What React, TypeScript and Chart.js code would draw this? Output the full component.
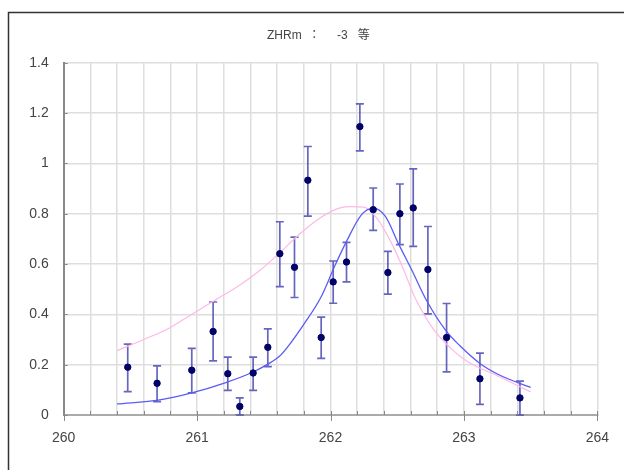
import React, { useEffect, useRef } from "react";
import { Chart, registerables } from "chart.js";

Chart.register(...registerables);

// Observed points with error bars
const obsX = [260.48, 260.70, 260.96, 261.12, 261.23, 261.32, 261.42, 261.53, 261.62, 261.73, 261.83, 261.93, 262.02, 262.12, 262.22, 262.32, 262.43, 262.52, 262.62, 262.73, 262.87, 263.12, 263.42];
const obsY = [0.19, 0.126, 0.178, 0.332, 0.164, 0.034, 0.167, 0.269, 0.641, 0.587, 0.933, 0.308, 0.529, 0.608, 1.146, 0.816, 0.566, 0.80, 0.823, 0.578, 0.308, 0.144, 0.068];
const errLow = [0.093, 0.053, 0.088, 0.215, 0.098, 0.0, 0.098, 0.192, 0.51, 0.467, 0.79, 0.225, 0.444, 0.529, 1.05, 0.734, 0.48, 0.677, 0.67, 0.402, 0.171, 0.042, 0.0];
const errHigh = [0.282, 0.195, 0.265, 0.449, 0.23, 0.068, 0.23, 0.342, 0.768, 0.707, 1.067, 0.389, 0.612, 0.686, 1.236, 0.902, 0.65, 0.918, 0.978, 0.749, 0.443, 0.246, 0.135];

// Blue fitted curve
const blueX = [260.40, 260.72, 260.96, 261.21, 261.42, 261.53, 261.63, 261.81, 261.93, 262.03, 262.12, 262.23, 262.32, 262.41, 262.51, 262.61, 262.72, 262.865, 262.97, 263.12, 263.27, 263.50];
const blueY = [0.044, 0.060, 0.088, 0.128, 0.171, 0.202, 0.240, 0.368, 0.47, 0.59, 0.69, 0.794, 0.822, 0.79, 0.68, 0.575, 0.455, 0.335, 0.275, 0.205, 0.158, 0.11];

// Pink curve
const pinkX = [260.40, 260.60, 260.79, 260.96, 261.13, 261.33, 261.46, 261.61, 261.76, 261.90, 262.03, 262.14, 262.25, 262.35, 262.46, 262.55, 262.63, 262.77, 262.90, 263.02, 263.27, 263.50];
const pinkY = [0.256, 0.30, 0.345, 0.40, 0.455, 0.52, 0.57, 0.64, 0.715, 0.775, 0.815, 0.828, 0.826, 0.78, 0.68, 0.575, 0.47, 0.342, 0.266, 0.215, 0.151, 0.092];

const titleText = "ZHRm  ：     -3   等";
const xMin = 260;
const xMax = 264;
const yMin = 0;
const yMax = 1.4;

const errorBarPlugin = {
  id: "errbars",
  beforeDatasetsDraw(chart: any) {
    const { ctx, scales } = chart;
    const x = scales.x;
    const y = scales.y;
    ctx.save();
    ctx.strokeStyle = "rgba(64,64,176,0.8)";
    ctx.lineWidth = 1.7;
    obsX.forEach((xv, i) => {
      const px = x.getPixelForValue(xv);
      const top = y.getPixelForValue(errHigh[i]);
      const bot = y.getPixelForValue(errLow[i]);
      ctx.beginPath();
      ctx.moveTo(px, top);
      ctx.lineTo(px, bot);
      ctx.moveTo(px - 4, top);
      ctx.lineTo(px + 4, top);
      ctx.moveTo(px - 4, bot);
      ctx.lineTo(px + 4, bot);
      ctx.stroke();
    });
    ctx.restore();
  },
};

const framePlugin = {
  id: "frame",
  afterDraw(chart: any) {
    const { ctx, scales, chartArea } = chart;
    ctx.save();
    ctx.strokeStyle = "#333";
    ctx.lineWidth = 1.5;
    ctx.beginPath();
    ctx.moveTo(8.5, chart.height);
    ctx.lineTo(8.5, 12.5);
    ctx.lineTo(chart.width, 12.5);
    ctx.stroke();
    // title
    ctx.fillStyle = "#444";
    ctx.font = "12px 'Liberation Sans', 'Noto Sans CJK JP', sans-serif";
    ctx.textAlign = "left";
    ctx.textBaseline = "middle";
    ctx.fillText(titleText, 267, 36);
    // tick marks
    ctx.strokeStyle = "#888";
    ctx.lineWidth = 1;
    const x = scales.x;
    const y = scales.y;
    for (let k = 0; k <= 20; k++) {
      const v = xMin + k * 0.2;
      const px = Math.round(x.getPixelForValue(v)) + 0.5;
      ctx.beginPath();
      if (k % 5 === 0) {
        ctx.moveTo(px, chartArea.bottom - 4);
        ctx.lineTo(px, chartArea.bottom + 6);
      } else {
        ctx.moveTo(px, chartArea.bottom - 4);
        ctx.lineTo(px, chartArea.bottom);
      }
      ctx.stroke();
    }
    for (let k = 0; k <= 7; k++) {
      const v = yMin + k * 0.2;
      const py = Math.round(y.getPixelForValue(v)) + 0.5;
      ctx.beginPath();
      ctx.moveTo(chartArea.left, py);
      ctx.lineTo(chartArea.left + 4, py);
      ctx.stroke();
    }
    ctx.restore();
  },
};

export default function App() {
  const ref = useRef<HTMLCanvasElement>(null);
  useEffect(() => {
    if (!ref.current) return;
    const chart = new Chart(ref.current, {
      type: "scatter",
      data: {
        datasets: [
          {
            label: "obs",
            data: obsX.map((x, i) => ({ x, y: obsY[i] })),
            pointRadius: 3.2,
            pointBackgroundColor: "#000066",
            pointBorderColor: "#000066",
            showLine: false,
            order: 0,
          },
          {
            label: "fit",
            data: blueX.map((x, i) => ({ x, y: blueY[i] })),
            showLine: true,
            pointRadius: 0,
            borderColor: "#5b5bf5",
            borderWidth: 1.3,
            cubicInterpolationMode: "monotone",
            order: 1,
          },
          {
            label: "model",
            data: pinkX.map((x, i) => ({ x, y: pinkY[i] })),
            showLine: true,
            pointRadius: 0,
            borderColor: "#ffb8e6",
            borderWidth: 1.2,
            cubicInterpolationMode: "monotone",
            order: 2,
          },
        ],
      },
      options: {
        animation: false,
        responsive: false,
        devicePixelRatio: 1,
        layout: { padding: { left: 8, right: 22, top: 62.7, bottom: 8.2 } },
        plugins: {
          legend: { display: false },
          tooltip: { enabled: false },
          title: { display: false },
        },
        scales: {
          x: {
            type: "linear",
            min: xMin,
            max: xMax,
            grid: { color: "#dedede", lineWidth: 1.5, drawTicks: false },
            border: { color: "#aaa", width: 2 },
            ticks: {
              stepSize: 0.2,
              autoSkip: false,
              maxRotation: 0,
              padding: 15,
              color: "#444",
              font: { family: "'Liberation Sans', sans-serif", size: 14 },
              callback: (v: any) => {
                const n = Number(v);
                return Math.abs(n - Math.round(n)) < 1e-6 ? String(Math.round(n)) : "";
              },
            },
          },
          y: {
            min: yMin,
            max: yMax,
            afterFit: (scale: any) => {
              scale.width = 55.7;
            },
            grid: { color: "#dedede", lineWidth: 1.5, drawTicks: false },
            border: { color: "#888", width: 2 },
            ticks: {
              stepSize: 0.2,
              padding: 15,
              color: "#444",
              font: { family: "'Liberation Sans', sans-serif", size: 14 },
              callback: (v: any) => String(Number(Number(v).toFixed(1))),
            },
          },
        },
      },
      plugins: [errorBarPlugin, framePlugin],
    } as any);
    return () => chart.destroy();
  }, []);
  return (
    <div style={{ position: "fixed", left: 0, top: 0, width: 624, height: 470, background: "#fff" }}>
      <canvas ref={ref} width={624} height={470} />
    </div>
  );
}
